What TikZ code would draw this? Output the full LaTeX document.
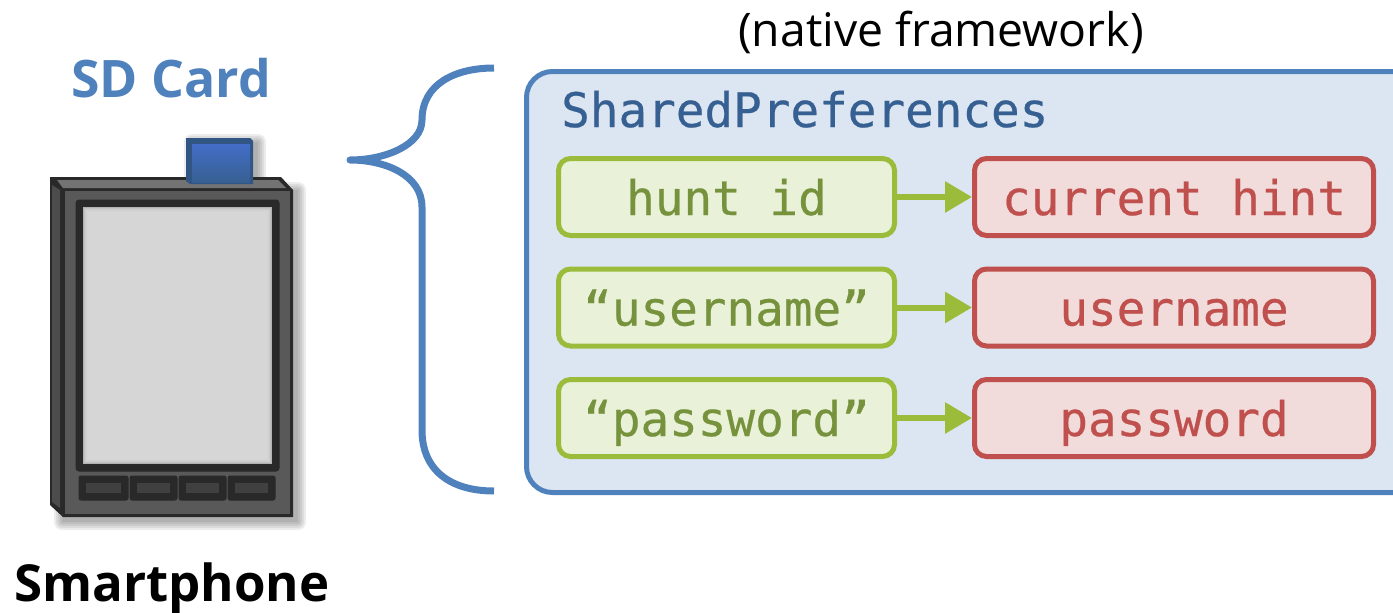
\documentclass[tikz,border=0pt]{standalone}
\usepackage{fontspec}
\setmainfont{Open Sans}
\setmonofont[FakeBold=0.5]{DejaVu Sans Mono}
\usepackage{tikz}
\usetikzlibrary{positioning,arrows.meta}
\definecolor{bracecol}{HTML}{4F81BD}
\definecolor{panelcol}{HTML}{DCE6F2}
\definecolor{titlecol}{HTML}{376092}
\definecolor{keycol}{HTML}{9BBB3B}
\definecolor{keyfill}{HTML}{E9F2D8}
\definecolor{keytext}{HTML}{76923C}
\definecolor{valcol}{HTML}{C0504D}
\definecolor{valfill}{HTML}{F2DCDB}
\tikzset{
  keybox/.style   = {shape=rectangle, rounded corners=12pt, draw=keycol, line width=5pt,
                     fill=keyfill, text=keytext, font=\fontsize{47.6}{47.6}\ttfamily,
                     text height=37pt, text depth=1pt,
                     minimum width=336pt, minimum height=77pt, inner sep=0pt},
  valbox/.style   = {shape=rectangle, rounded corners=12pt, draw=valcol, line width=5pt,
                     fill=valfill, text=valcol, font=\fontsize{47.6}{47.6}\ttfamily,
                     text height=37pt, text depth=1pt,
                     minimum width=399pt, minimum height=77pt, inner sep=0pt},
  maparrow/.style = {draw=keycol, line width=6pt, -{Triangle[length=27pt,width=30pt]}},
  panel/.style    = {shape=rectangle, rounded corners=26pt, draw=bracecol, line width=5pt,
                     fill=panelcol, minimum width=900pt, minimum height=421pt, inner sep=0pt},
  phonedark/.style = {fill=black!84, draw=black!84, line width=1pt},
}
\begin{document}
\begin{tikzpicture}[x=1pt,y=-1pt]
  \useasboundingbox (0,0) rectangle (1393,613);
  \clip (0,0) rectangle (1393,613);

  % phone
  \foreach \gr in {8,6,4,2,0} {
    \fill[black, opacity=.07, rounded corners=\gr pt] (62-\gr,190-\gr) rectangle (298+\gr,522+\gr);
    \fill[black, opacity=.07, rounded corners=\gr pt] (192-\gr,142-\gr) rectangle (258+\gr,190+\gr);
  }
  \fill[black!84] (50,177) -- (281,177) -- (293,190) -- (293,517) -- (63,517) -- (50,505) -- cycle;
  \fill[black!55] (57,180) -- (278,180) -- (286,188) -- (63,188) -- cycle;
  \fill[black!70] (52,185) -- (60,190) -- (60,508) -- (52,502) -- cycle;
  \fill[black!65] (65,191) rectangle (290,514);
  \filldraw[phonedark, rounded corners=3pt] (76,200) rectangle (279,471);
  \fill[black!30] (83,207) rectangle (272,464);
  \foreach \gr/\sh in {1/24,2/20,3/18,4/17,5/16} {
    \fill[black!\sh] (83+\gr,207+\gr) rectangle (272-\gr,464-\gr);
  }
  \foreach \bx/\bw in {79/49,130/47,179/47,228/47} {
    \filldraw[phonedark, rounded corners=2pt] (\bx,476) rectangle ++(\bw,24);
    \fill[black!75] (\bx+7,483) rectangle ++(\bw-14,10);
  }
  % card
  \fill[titlecol!90!black] (186,138) -- (250,138) -- (253,141) -- (253,184) -- (190,184) -- (186,181) -- cycle;
  \shade[top color=bracecol!85!blue, bottom color=titlecol] (192,144) rectangle (250,182);

  \node[text=bracecol, font=\fontsize{51.7}{52}\bfseries] (card) at (171,78) {SD Card};
  \node[text=black, font=\fontsize{51}{52}\bfseries] (phone) at (172,588) {Smartphone};
  \node[text=black, font=\fontsize{46.3}{47}\selectfont] (native) at (941,32) {(native framework)};

  % brace
  \draw[bracecol, line width=7pt, line join=round]
    (494,68) .. controls (455,68) and (422,84) .. (422,120)
    .. controls (422,145) and (385,160) .. (350,160)
    .. controls (385,160) and (422,175) .. (422,207)
    -- (422,430)
    .. controls (422,470) and (450,491) .. (494,491);

  % prefs
  \node[panel, anchor=north west] (prefs) at (524,69) {};
  \node[text=titlecol, font=\fontsize{47.6}{47.6}\ttfamily, anchor=base west, inner sep=0pt] (title) at (561,127) {SharedPreferences};

  \node[keybox, anchor=north west] (hunt) at (556,156) {hunt id};
  \node[keybox, below=28.5pt of hunt] (userkey) {“username”};
  \node[keybox, below=28.5pt of userkey] (passkey) {“password”};
  \node[valbox, anchor=north west] (hint) at (972,156) {current hint};
  \node[valbox, below=28.5pt of hint] (userval) {username};
  \node[valbox, below=28.5pt of userval] (passval) {password};

  \draw[maparrow] (hunt) -- (hint);
  \draw[maparrow] (userkey) -- (userval);
  \draw[maparrow] (passkey) -- (passval);
\end{tikzpicture}
\end{document}
